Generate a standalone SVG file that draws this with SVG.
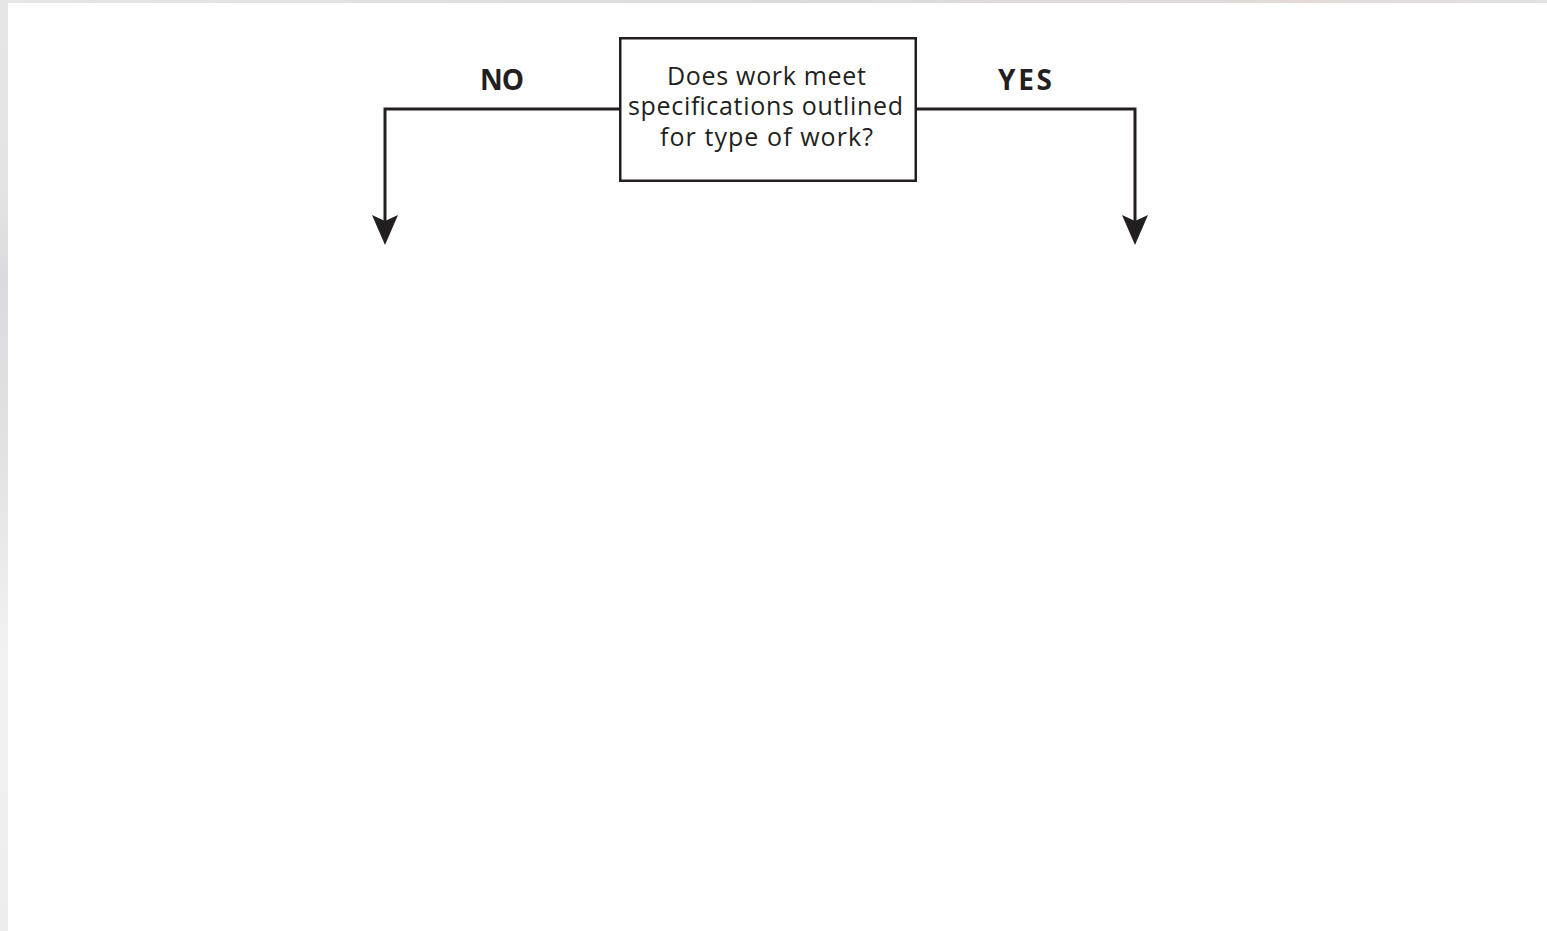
<svg xmlns="http://www.w3.org/2000/svg" width="1547" height="931" viewBox="0 0 1547 931">
  <defs>
    <linearGradient id="edge" x1="0" y1="0" x2="0" y2="1">
      <stop offset="0" stop-color="#e6e6e4"/>
      <stop offset="0.2" stop-color="#e4e4e2"/>
      <stop offset="0.3" stop-color="#d9dbdf"/>
      <stop offset="0.5" stop-color="#e2e3e4"/>
      <stop offset="0.7" stop-color="#f2f2f1"/>
      <stop offset="1" stop-color="#ededed"/>
    </linearGradient>
    <linearGradient id="topedge" x1="0" y1="0" x2="1" y2="0">
      <stop offset="0" stop-color="#e6e6e4"/>
      <stop offset="0.5" stop-color="#dcdcdc"/>
      <stop offset="0.85" stop-color="#e3d9d9"/>
      <stop offset="1" stop-color="#e2e2e2"/>
    </linearGradient>
    <style>
      .conn { fill: none; stroke: #231f20; stroke-width: 3; }
      .head { fill: #231f20; }
      .box { fill: #ffffff; stroke: #231f20; stroke-width: 2.5; }
      .lbl { font-family: "Open Sans", "Noto Sans", sans-serif; font-weight: bold; font-size: 28px; fill: #231f20; text-anchor: middle; }
      .txt { font-family: "Open Sans", "Noto Sans", sans-serif; font-size: 25px; fill: #231f20; text-anchor: middle; }
    </style>
  </defs>
  <rect x="0" y="0" width="1547" height="931" fill="#ffffff"/>
  <rect x="0" y="0" width="8" height="931" fill="url(#edge)"/>
  <rect x="0" y="0" width="1547" height="3" fill="url(#topedge)"/>

  <g id="connectors">
    <path class="conn" d="M620,109 L385,109 L385,240" />
    <path class="head" d="M372,215 L385,221 L398,215 L385,245 Z"/>
    <path class="conn" d="M916,109 L1135,109 L1135,240" />
    <path class="head" d="M1122,215 L1135,221 L1148,215 L1135,245 Z"/>
  </g>

  <g id="label-no">
    <text class="lbl" x="502" y="90" textLength="44" lengthAdjust="spacing">NO</text>
  </g>
  <g id="label-yes">
    <text class="lbl" x="1025" y="90" textLength="54" lengthAdjust="spacing">YES</text>
  </g>

  <g id="decision">
    <rect class="box" x="620.25" y="38.25" width="295.5" height="142.5"/>
    <text class="txt" x="766.5" y="85" textLength="199" lengthAdjust="spacing">Does work meet</text>
    <text class="txt" x="765.5" y="115" textLength="275" lengthAdjust="spacing">specifications outlined</text>
    <text class="txt" x="766.5" y="146" textLength="213" lengthAdjust="spacing">for type of work?</text>
  </g>
</svg>
